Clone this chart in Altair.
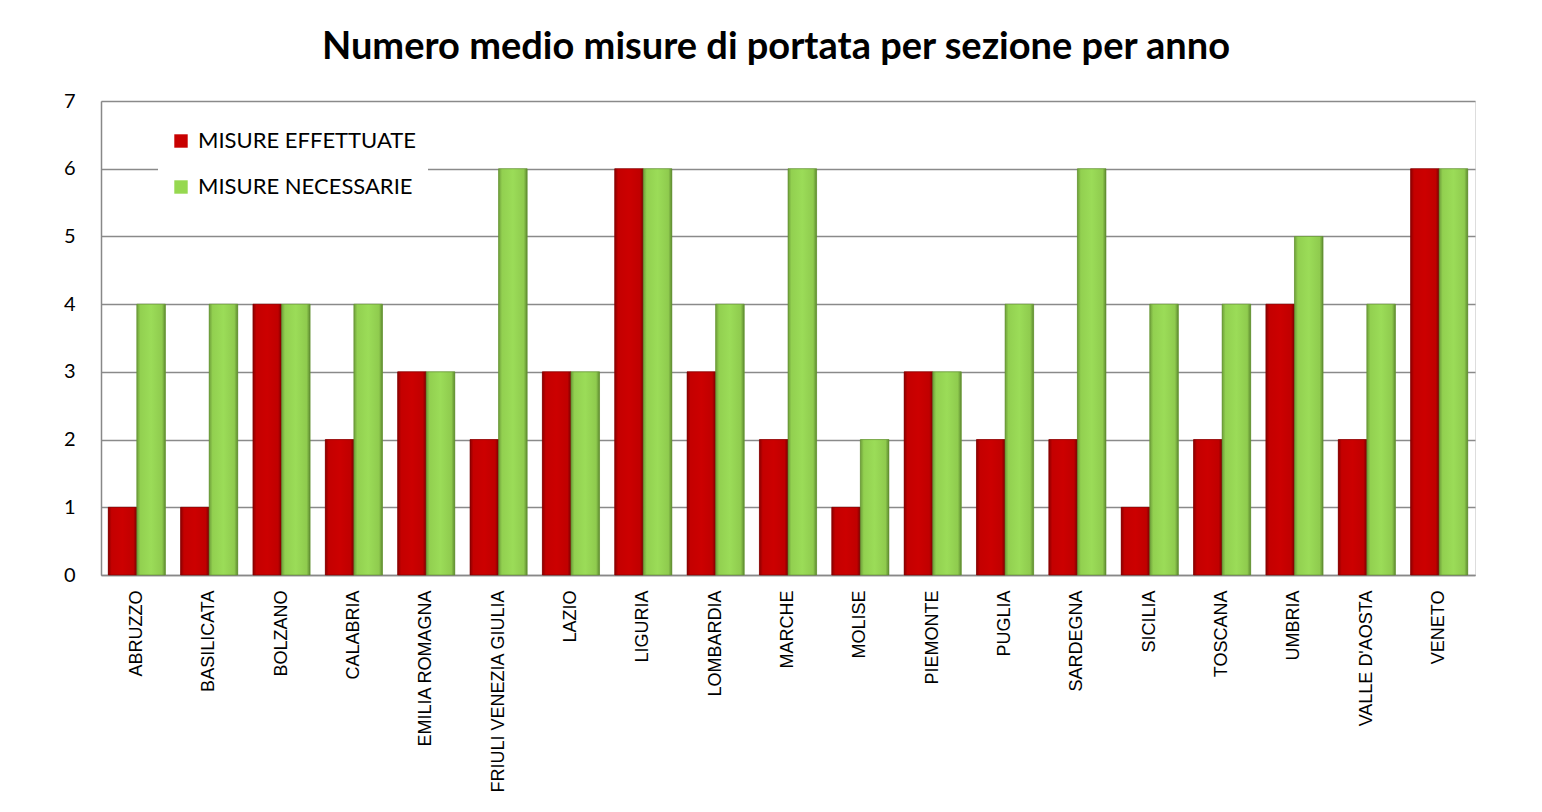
import altair as alt
import pandas as pd

regions = ["ABRUZZO", "BASILICATA", "BOLZANO", "CALABRIA", "EMILIA ROMAGNA",
           "FRIULI VENEZIA  GIULIA", "LAZIO", "LIGURIA", "LOMBARDIA", "MARCHE",
           "MOLISE", "PIEMONTE", "PUGLIA", "SARDEGNA", "SICILIA", "TOSCANA",
           "UMBRIA", "VALLE D'AOSTA", "VENETO"]
effettuate = [1, 1, 4, 2, 3, 2, 3, 6, 3, 2, 1, 3, 2, 2, 1, 2, 4, 2, 6]
necessarie = [4, 4, 4, 4, 3, 6, 3, 6, 4, 6, 2, 3, 4, 6, 4, 4, 5, 4, 6]
series = ["MISURE EFFETTUATE", "MISURE NECESSARIE"]
colors = ["#C80000", "#96D850"]

rows = []
for r, a, b in zip(regions, effettuate, necessarie):
    rows.append({"region": r, "serie": series[0], "value": a})
    rows.append({"region": r, "serie": series[1], "value": b})
df = pd.DataFrame(rows)

x_enc = alt.X("region:N", sort=regions, title=None,
              scale=alt.Scale(paddingInner=0.21, paddingOuter=0.1),
              axis=alt.Axis(labelAngle=270, labelFont="Liberation Sans",
                            labelFontSize=18, labelColor="#000000",
                            labelPadding=15, ticks=False, domainColor="#888888",
                            domainWidth=1.5, labelLimit=400))
y_enc = alt.Y("value:Q", title=None,
              scale=alt.Scale(domain=[0, 7], nice=False),
              axis=alt.Axis(values=[0, 1, 2, 3, 4, 5, 6, 7], labelFont="Lato",
                            labelFontSize=20, labelColor="#000000", labelPadding=26,
                            ticks=False, grid=True, gridColor="#8a8a8a",
                            gridWidth=1.3, domainColor="#888888", domainWidth=1.5))
xo = alt.XOffset("serie:N", sort=series, scale=alt.Scale(domain=series))

base = alt.Chart(df).encode(x=x_enc, y=y_enc, xOffset=xo)

legend_layer = base.mark_bar().encode(
    color=alt.Color("serie:N", sort=series,
                    scale=alt.Scale(domain=series, range=colors),
                    legend=alt.Legend(title=None, orient="none", legendX=57, legendY=17,
                                      fillColor="#ffffff", padding=12,
                                      labelFont="Lato", labelFontSize=22,
                                      labelLimit=500,
                                      labelColor="#000000", symbolType="square",
                                      symbolSize=180, symbolStrokeWidth=0,
                                      rowPadding=24, labelOffset=6))
)

red_grad = alt.LinearGradient(gradient="linear", x1=0, x2=1, y1=0, y2=0, stops=[
    alt.GradientStop(color="#8A0000", offset=0),
    alt.GradientStop(color="#C40000", offset=0.12),
    alt.GradientStop(color="#CC0000", offset=0.5),
    alt.GradientStop(color="#C00000", offset=0.88),
    alt.GradientStop(color="#7A0000", offset=1)])
green_grad = alt.LinearGradient(gradient="linear", x1=0, x2=1, y1=0, y2=0, stops=[
    alt.GradientStop(color="#6E9E3A", offset=0),
    alt.GradientStop(color="#92D050", offset=0.12),
    alt.GradientStop(color="#9BDC58", offset=0.5),
    alt.GradientStop(color="#8FCB4E", offset=0.88),
    alt.GradientStop(color="#5E8A30", offset=1)])

red_layer = base.transform_filter(alt.datum.serie == series[0]).mark_bar(
    fill=red_grad, stroke="#7A0000", strokeWidth=0.6)
green_layer = base.transform_filter(alt.datum.serie == series[1]).mark_bar(
    fill=green_grad, stroke="#5E8A30", strokeWidth=0.6)

chart = alt.layer(legend_layer, red_layer, green_layer).properties(
    width=1374, height=474,
    title=alt.Title("Numero medio misure di portata per sezione per anno",
                    font="Lato", fontSize=38, fontWeight="bold", color="#000000",
                    anchor="middle", offset=24, dx=-12),
    autosize=alt.AutoSizeParams(type="none"),
    padding={"left": 93, "top": 93, "right": 40, "bottom": 220},
).configure_view(stroke=None).configure(background="#ffffff")

chart.save("out.html", embed_options={"renderer": "svg", "actions": False})
